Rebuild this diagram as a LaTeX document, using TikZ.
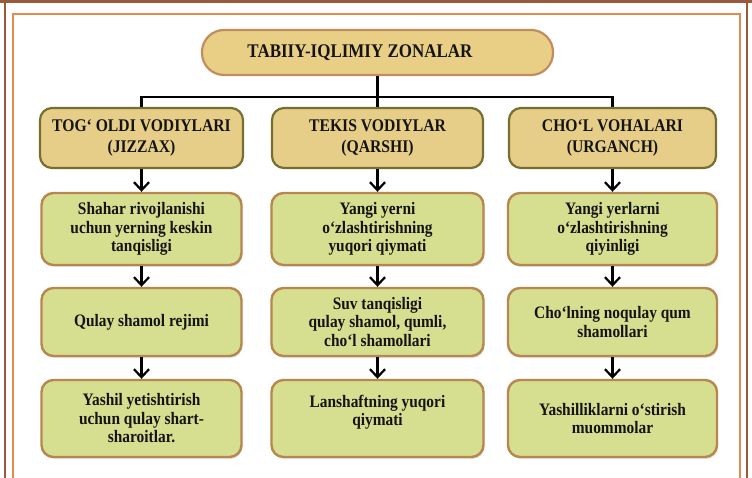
\documentclass[tikz,border=0pt]{standalone}
\usepackage{fontspec}
\setmainfont{Liberation Serif}
\newfontfamily\condfont[FakeStretch=0.88]{Liberation Serif}
\usetikzlibrary{shadows,arrows.meta}
\definecolor{titlefill}{HTML}{E9CF86}
\definecolor{titledraw}{HTML}{C28C5E}
\definecolor{headfill}{HTML}{E6CD88}
\definecolor{headdraw}{HTML}{75702F}
\definecolor{greenfill}{HTML}{D6DF8F}
\definecolor{greendraw}{HTML}{B8864F}
\definecolor{frameout}{HTML}{9A5A3A}
\definecolor{framein}{HTML}{E88A4E}
\tikzset{
  txt/.style={font=\condfont\bfseries\fontsize{17.5}{18.5}\selectfont, align=center, text=black!92},
  titlebox/.style={align=center, text=black!92, font=\condfont\bfseries\fontsize{19.3}{20}\selectfont,
    draw=titledraw, fill=titlefill, line width=2.2pt, rounded corners=22pt, inner sep=0pt},
  headbox/.style={align=center, text=black!92, font=\condfont\bfseries\fontsize{17.8}{21.5}\selectfont,
    draw=headdraw, fill=headfill, line width=2.2pt, rounded corners=12pt, inner sep=0pt, minimum height=60pt},
  greenbox/.style={txt, draw=greendraw, fill=greenfill, line width=2.4pt, rounded corners=12pt, inner sep=0pt,
    drop shadow={opacity=0.22, shadow xshift=1pt, shadow yshift=-2pt}},
  conn/.style={line width=2.4pt, black},
  arr/.style={line width=2.2pt, black, -{Straight Barb[length=8pt,width=15pt]}}
}
\begin{document}
\begin{tikzpicture}[x=1pt,y=-1pt]
\useasboundingbox (0,0) rectangle (752,478);
\fill[white] (0,0) rectangle (752,478);
% frame
\draw[frameout, line width=2.5pt] (5,-10) -- (5,500);
\draw[frameout, line width=2.5pt] (0,1.5) -- (752,1.5);
\draw[frameout, line width=2.5pt] (747,-10) -- (747,500);
\draw[framein, line width=1.4pt] (13,500) -- (13,14) -- (740,14) -- (740,500);

% title
\node[titlebox, minimum width=351pt, minimum height=45pt] (t) at (377.5,52.5) {\hspace*{-35pt}TABIIY-IQLIMIY ZONALAR};

% headers
\node[headbox, minimum width=203pt] (h1) at (141.5,138) {TOG‘ OLDI VODIYLARI\\(JIZZAX)};
\node[headbox, minimum width=211pt] (h2) at (377.5,138) {TEKIS VODIYLAR\\(QARSHI)};
\node[headbox, minimum width=207pt] (h3) at (612.5,138) {CHO‘L VOHALARI\\(URGANCH)};

\coordinate (bus) at (377.5,97);
\draw[conn] (t.south) -- (h2.north);
\draw[conn] (h1.north) |- (bus) -| (h3.north);

% green row 1
\node[greenbox, minimum width=200pt, minimum height=72pt] (a1) at (141.5,229) {Shahar rivojlanishi\\uchun yerning keskin\\tanqisligi};
\node[greenbox, minimum width=212pt, minimum height=72pt] (b1) at (377.5,229) {Yangi yerni\\o‘zlashtirishning\\yuqori qiymati};
\node[greenbox, minimum width=209pt, minimum height=72pt] (c1) at (612.5,229) {Yangi yerlarni\\o‘zlashtirishning\\qiyinligi};
% row 2
\node[greenbox, minimum width=200pt, minimum height=68pt] (a2) at (141.5,322) {Qulay shamol rejimi};
\node[greenbox, minimum width=212pt, minimum height=68pt] (b2) at (377.5,322) {Suv tanqisligi\\qulay shamol, qumli,\\cho‘l shamollari};
\node[greenbox, minimum width=209pt, minimum height=68pt] (c2) at (612.5,322) {Cho‘lning noqulay qum\\shamollari};
% row 3
\node[greenbox, minimum width=200pt, minimum height=77pt] (a3) at (141.5,418.5) {Yashil yetishtirish\\uchun qulay shart-\\sharoitlar.};
\node[greenbox, minimum width=212pt, minimum height=77pt, text depth=16pt] (b3) at (377.5,418.5) {Lanshaftning yuqori\\qiymati};
\node[greenbox, minimum width=209pt, minimum height=77pt] (c3) at (612.5,418.5) {Yashilliklarni o‘stirish\\muommolar};

% arrows
\draw[arr] (h1.south) -- (h1.south |- a1.north);
\draw[arr] (h2.south) -- (h2.south |- b1.north);
\draw[arr] (h3.south) -- (h3.south |- c1.north);
\draw[arr] (a1.south) -- (a1.south |- a2.north);
\draw[arr] (b1.south) -- (b1.south |- b2.north);
\draw[arr] (c1.south) -- (c1.south |- c2.north);
\draw[arr] (a2.south) -- (a2.south |- a3.north);
\draw[arr] (b2.south) -- (b2.south |- b3.north);
\draw[arr] (c2.south) -- (c2.south |- c3.north);
\end{tikzpicture}
\end{document}
